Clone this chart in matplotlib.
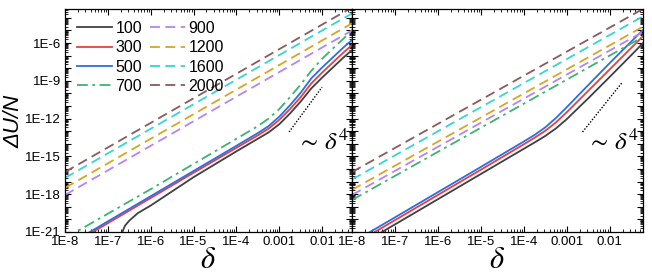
import numpy as np
import matplotlib.pyplot as plt
from matplotlib.ticker import FixedLocator, FixedFormatter, NullFormatter

plt.rcParams['font.family'] = ['Liberation Sans', 'DejaVu Sans']
plt.rcParams['mathtext.fontset'] = 'stix'

# --- Data (log10 values) ---
labels = ['100', '300', '500', '700', '900', '1200', '1600', '2000']
colors = ['#404040', '#f03c3c', '#2a6ee6', '#3cb371', '#b585f0', '#daa520', '#33d6d6', '#8b5a5a']
styles = ['-', '-', '-', (0, (6, 2.5, 1.5, 2.5)), (0, (5.5, 3)), (0, (5.5, 3)), (0, (5.5, 3)), (0, (5.5, 3))]

# left panel
L_dash_x = [-8, -6, -4, -2, -1.3]
L_900 = [-18.06, -14.16, -10.26, -6.36, -5.0]
L_1200 = [-17.5, -13.6, -9.7, -5.8, -4.44]
L_1600 = [-16.71, -12.81, -8.91, -5.01, -3.65]
L_2000 = [-16.24, -12.34, -8.44, -4.54, -3.18]

L_x = [-8, -7, -6, -5, -4, -3.5, -3.25, -3, -2.75, -2.5, -2.25, -2, -1.75, -1.5, -1.3]
L_300 = [-22.3, -20.3, -18.3, -16.3, -14.32, -13.33, -12.8, -12.1, -11.25, -10.3, -9.2, -8.35, -7.55, -6.75, -6.16]
L_500 = [-22.16, -20.16, -18.16, -16.16, -14.16, -13.15, -12.6, -11.85, -10.95, -9.95, -8.8, -7.95, -7.15, -6.35, -5.76]
L_700 = [-21.5, -19.55, -17.6, -15.6, -13.6, -12.6, -12.0, -11.25, -10.3, -9.3, -8.2, -7.25, -6.45, -5.65, -5.0]

L_100_x = [-6.7, -6.65, -6.6, -6.5, -6.3, -6, -5, -4, -3.5, -3.25, -3, -2.75, -2.5, -2.25, -2, -1.75, -1.5, -1.3]
L_100 = [-21.5, -20.9, -20.5, -20.1, -19.5, -18.9, -16.65, -14.6, -13.6, -13.1, -12.45, -11.6, -10.65, -9.6, -8.75,
         -7.95, -7.15, -6.56]

# right panel
R_dash_x = [-8, -6, -4, -2, -1.22]
R_700 = [-18.46, -14.64, -10.82, -7.0, -5.51]
R_900 = [-18.06, -14.24, -10.42, -6.6, -5.11]
R_1200 = [-17.65, -13.83, -10.01, -6.19, -4.7]
R_1600 = [-16.83, -13.01, -9.19, -5.37, -3.88]
R_2000 = [-16.24, -12.42, -8.6, -4.78, -3.29]

R_x = [-8, -7, -6, -5, -4, -3.75, -3.5, -3.25, -3, -2.5, -2, -1.5, -1.22]
R_100 = [-22.4, -20.4, -18.4, -16.4, -14.4, -13.9, -13.38, -12.78, -12.05, -10.4, -8.7, -6.98, -6.0]
R_300 = [-22.06, -20.06, -18.06, -16.06, -14.04, -13.52, -12.97, -12.3, -11.5, -9.8, -8.1, -6.4, -5.45]
R_500 = [-21.84, -19.84, -17.84, -15.84, -13.82, -13.3, -12.7, -11.95, -11.1, -9.35, -7.6, -5.9, -4.95]

# ~delta^4 guide lines
L_guide_x = [-2.77, -2.0]
L_guide_y = [-13.06, -9.5]
R_guide_x = [-2.63, -1.70]
R_guide_y = [-13.06, -9.1]

xticks = [1e-8, 1e-7, 1e-6, 1e-5, 1e-4, 1e-3, 1e-2]
xticklabels = ['1E-8', '1E-7', '1E-6', '1E-5', '1E-4', '0.001', '0.01']
yticks = [1e-21, 1e-18, 1e-15, 1e-12, 1e-9, 1e-6]
yticklabels = ['1E-21', '1E-18', '1E-15', '1E-12', '1E-9', '1E-6']


def p(v):
    return 10.0 ** np.array(v)


fig = plt.figure(figsize=(6.52, 2.75), dpi=100)
axL = fig.add_axes([65 / 652, 43 / 275, 287 / 652, 223 / 275])
axR = fig.add_axes([352 / 652, 43 / 275, 291 / 652, 223 / 275])

left_series = [(L_100_x, L_100), (L_x, L_300), (L_x, L_500), (L_x, L_700),
               (L_dash_x, L_900), (L_dash_x, L_1200), (L_dash_x, L_1600), (L_dash_x, L_2000)]
right_series = [(R_x, R_100), (R_x, R_300), (R_x, R_500), (R_dash_x, R_700),
                (R_dash_x, R_900), (R_dash_x, R_1200), (R_dash_x, R_1600), (R_dash_x, R_2000)]

for ax, series, xmax in [(axL, left_series, 0.05), (axR, right_series, 0.06)]:
    for (x, y), lab, c, ls in zip(series, labels, colors, styles):
        ax.plot(p(x), p(y), color=c, ls=ls, lw=1.3, label=lab)
    ax.set_xscale('log')
    ax.set_yscale('log')
    ax.set_xlim(1e-8, xmax)
    ax.set_ylim(1e-21, 5e-4)
    ax.xaxis.set_major_locator(FixedLocator(xticks))
    ax.xaxis.set_major_formatter(FixedFormatter(xticklabels))
    ax.xaxis.set_minor_locator(FixedLocator([m * 10.0 ** e for e in range(-8, -1) for m in range(2, 10)]))
    ax.xaxis.set_minor_formatter(NullFormatter())
    ax.yaxis.set_major_locator(FixedLocator([10.0 ** e for e in range(-21, -3)]))
    ax.yaxis.set_minor_locator(FixedLocator([m * 10.0 ** e for e in range(-21, -3) for m in range(2, 10)]))
    ax.yaxis.set_minor_formatter(NullFormatter())
    ax.tick_params(which='both', direction='in', top=True, right=True, labelsize=9.5, pad=3)
    ax.tick_params(which='major', length=4, width=0.8)
    ax.tick_params(which='minor', length=2, width=0.6)
    for s in ax.spines.values():
        s.set_linewidth(0.9)
    ax.set_xlabel(r'$\delta$', fontsize=22, labelpad=-2)

axL.yaxis.set_major_formatter(FixedFormatter(
    [yticklabels[yticks.index(10.0 ** e)] if (e % 3 == 0) else '' for e in range(-21, -3)]))
axR.yaxis.set_major_formatter(NullFormatter())

axL.plot(p(L_guide_x), p(L_guide_y), color='black', ls=(0, (1, 1.2)), lw=1.0)
axR.plot(p(R_guide_x), p(R_guide_y), color='black', ls=(0, (1, 1.2)), lw=1.0)
axL.text(0.90, 0.40, r'$\sim\,\delta^4$', transform=axL.transAxes, fontsize=18, ha='center', va='center')
axR.text(0.897, 0.40, r'$\sim\,\delta^4$', transform=axR.transAxes, fontsize=18, ha='center', va='center')

axL.legend(loc='upper left', ncol=2, frameon=False, fontsize=11.5, handlelength=2.2,
           handletextpad=0.2, columnspacing=0.5, labelspacing=0.27, borderaxespad=0.55,
           borderpad=0.2)

fig.text(0.022, 0.56, 'ΔU/N', rotation=90, fontsize=16, style='italic', ha='center', va='center')

plt.savefig('out.png', dpi=100)
plt.close()
